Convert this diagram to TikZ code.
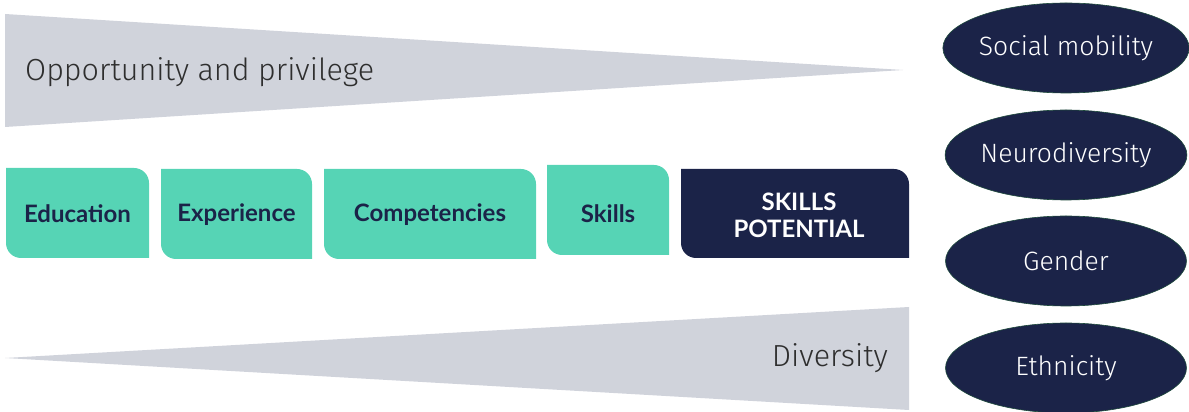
\documentclass[tikz,border=0pt]{standalone}
\usepackage{fontspec}
\setmainfont{Fira Sans}[UprightFont=* Light]
\newfontfamily\boldf{Lato}
\usetikzlibrary{shapes.geometric}
\definecolor{teal1}{HTML}{56D4B5}
\definecolor{navy}{HTML}{1B2348}
\definecolor{wedge}{HTML}{D0D3DB}
\definecolor{txt}{HTML}{2E2E2E}
\definecolor{rim}{HTML}{1E4A3C}
\newcommand{\tabbox}[5]{%
  \fill[#5] (#1,#4) -- ({#2-15},#4) arc[start angle=90,end angle=0,radius=15pt] -- (#2,#3) -- ({#1+15},#3) arc[start angle=270,end angle=180,radius=15pt] -- cycle;}
\begin{document}
\begin{tikzpicture}[x=1pt,y=1pt,
  lab/.style={font=\boldf\bfseries\fontsize{24}{26}\selectfont, text=navy, align=center},
  oval/.style={ellipse, fill=navy, draw=rim, line width=0.6pt, inner sep=0pt, minimum width=241pt, minimum height=90pt, text=white, font=\fontsize{26.5}{30}\selectfont},
  big/.style={text=txt, font=\fontsize{30.5}{34}\selectfont, inner sep=0pt}]
\useasboundingbox (0,0) rectangle (1189,412);
% wedges
\fill[wedge] (5,398) -- (903,342) -- (5,285) -- cycle;
\fill[wedge] (5,54) -- (909,105) -- (909,2) -- cycle;
\node[big, anchor=west] (opp) at (25,340) {Opportunity and privilege};
\node[big, anchor=east] (div) at (888,54) {Diversity};
% boxes
\tabbox{6}{149}{154}{244}{teal1}
\tabbox{161}{312}{153}{243}{teal1}
\tabbox{324}{536}{153}{243}{teal1}
\tabbox{547}{669}{157}{247}{teal1}
\tabbox{681}{909}{154}{243}{navy}
\node[lab] (edu) at (77.5,198) {Education};
\node[lab] (exp) at (236.5,197) {Experience};
\node[lab] (comp) at (430,197) {Competencies};
\node[lab] (sk) at (608,198) {Skills};
\node[lab, text=white, font=\boldf\bfseries\fontsize{24}{27}\selectfont] (pot) at (799,197) {SKILLS\\POTENTIAL};
% ovals
\node[oval] (soc) at (1066,364) {Social mobility};
\node[oval] (neu) at (1066,257) {Neurodiversity};
\node[oval] (gen) at (1066,151) {Gender};
\node[oval] (eth) at (1066,44) {Ethnicity};
\end{tikzpicture}
\end{document}
